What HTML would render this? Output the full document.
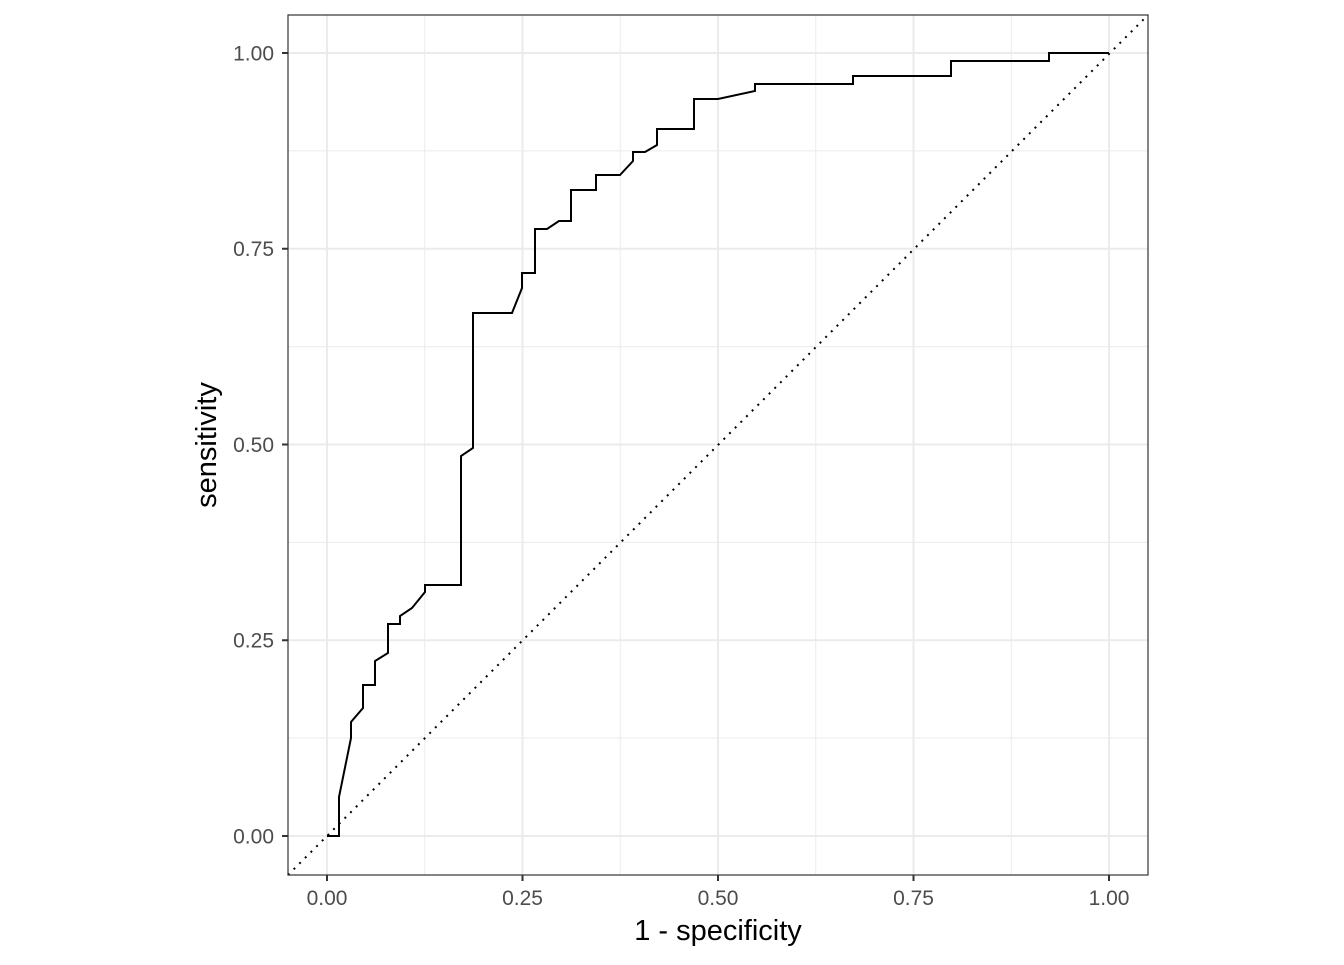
<!DOCTYPE html>
<html><head><meta charset="utf-8"><style>body{margin:0;background:#fff}</style></head><body>
<svg width="1344" height="960" xmlns="http://www.w3.org/2000/svg" font-family="Liberation Sans, sans-serif">
<rect width="1344" height="960" fill="#fff"/>
<g stroke="#ebebeb" stroke-width="1">
<line x1="424.75" y1="15" x2="424.75" y2="875"/><line x1="620.25" y1="15" x2="620.25" y2="875"/><line x1="815.75" y1="15" x2="815.75" y2="875"/><line x1="1011.25" y1="15" x2="1011.25" y2="875"/>
<line x1="288" y1="738" x2="1148" y2="738"/><line x1="288" y1="542.4" x2="1148" y2="542.4"/><line x1="288" y1="346.6" x2="1148" y2="346.6"/><line x1="288" y1="150.9" x2="1148" y2="150.9"/>
</g>
<g stroke="#ebebeb" stroke-width="2">
<line x1="327" y1="15" x2="327" y2="875"/><line x1="522.5" y1="15" x2="522.5" y2="875"/><line x1="718" y1="15" x2="718" y2="875"/><line x1="913.5" y1="15" x2="913.5" y2="875"/><line x1="1109" y1="15" x2="1109" y2="875"/>
<line x1="288" y1="836" x2="1148" y2="836"/><line x1="288" y1="640.25" x2="1148" y2="640.25"/><line x1="288" y1="444.5" x2="1148" y2="444.5"/><line x1="288" y1="248.75" x2="1148" y2="248.75"/><line x1="288" y1="53" x2="1148" y2="53"/>
</g>
<line x1="288" y1="875" x2="1148" y2="15" stroke="#000" stroke-width="2" stroke-dasharray="2,6"/>
<polyline fill="none" stroke="#000" stroke-width="2" points="327,836 339,836 339,797 351,738 351,722 363,708 363,685 375,685 375,661 388,653 388,624 400,624 400,616 412,608 425,592 425,585 461,585 461,456 473,448 473,313 512,313 522,288 522,273 535,273 535,229 547,229 559,221 571,221 571,190 596,190 596,175 620,175 633,161 633,152 645,152 657,145 657,129 694,129 694,99 718,99 755,91 755,84 853,84 853,76 951,76 951,61 1049,61 1049,53 1109,53"/>
<rect x="288" y="15" width="860" height="860" fill="none" stroke="#333" stroke-width="1.2"/>
<g stroke="#333" stroke-width="2">
<line x1="327" y1="875" x2="327" y2="881"/><line x1="522.5" y1="875" x2="522.5" y2="881"/><line x1="718" y1="875" x2="718" y2="881"/><line x1="913.5" y1="875" x2="913.5" y2="881"/><line x1="1109" y1="875" x2="1109" y2="881"/>
<line x1="282" y1="836" x2="288" y2="836"/><line x1="282" y1="640.25" x2="288" y2="640.25"/><line x1="282" y1="444.5" x2="288" y2="444.5"/><line x1="282" y1="248.75" x2="288" y2="248.75"/><line x1="282" y1="53" x2="288" y2="53"/>
</g>
<g fill="#4d4d4d" font-size="21" text-anchor="middle">
<text x="327" y="905">0.00</text><text x="522.5" y="905">0.25</text><text x="718" y="905">0.50</text><text x="913.5" y="905">0.75</text><text x="1109" y="905">1.00</text>
</g>
<g fill="#4d4d4d" font-size="21" text-anchor="end">
<text x="274" y="843.5">0.00</text><text x="274" y="647.7">0.25</text><text x="274" y="452">0.50</text><text x="274" y="256.2">0.75</text><text x="274" y="60.5">1.00</text>
</g>
<text x="718" y="940" font-size="29" text-anchor="middle">1 - specificity</text>
<text transform="translate(216,445) rotate(-90)" font-size="29" text-anchor="middle">sensitivity</text>
</svg>
</body></html>
